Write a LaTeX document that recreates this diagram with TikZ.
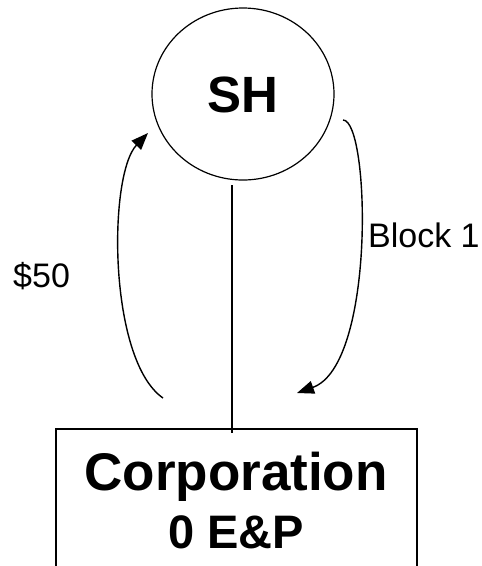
\documentclass[tikz,border=0pt]{standalone}
\usepackage{fontspec}
\setmainfont{Liberation Sans}
\usetikzlibrary{shapes.geometric,arrows.meta}
\begin{document}
\begin{tikzpicture}[x=1pt,y=1pt,
  conn/.style={line width=1.4pt,-{Triangle[length=17pt,width=13pt]}},
  plainline/.style={line width=1.3pt},
  lbl/.style={font=\fontsize{34}{40}\selectfont,inner sep=0pt,anchor=base west}]
\clip (0,0) rectangle (482,-566);
\useasboundingbox (0,0) rectangle (482,-566);
\fill[white] (0,0) rectangle (482,-566);
\node[ellipse,draw,line width=1.2pt,minimum width=182pt,minimum height=172pt,inner sep=0pt] (sh) at (243,-94) {};
\node[font=\bfseries\fontsize{51}{60}\selectfont,inner sep=0pt] (shtext) at (243,-95) {SH};
\node[rectangle,draw,line width=1.6pt,minimum width=361pt,minimum height=200pt,inner sep=0pt] (corp) at (236.5,-529) {};
\node[font=\bfseries\fontsize{53}{60}\selectfont,inner sep=0pt,anchor=base] (corptext) at (236,-490) {Corporation};
\node[font=\bfseries\fontsize{47}{54}\selectfont,inner sep=0pt,anchor=base] (eptext) at (236,-548) {0 E\&P};
\coordinate (lt) at (232,-185);
\coordinate (lb) at (232,-433);
\draw[plainline] (lt) -- (lb);
\coordinate (ls) at (163,-398);
\coordinate (le) at (148,-133);
\draw[conn] (ls) .. controls (108,-360) and (108,-175) .. (le);
\coordinate (rs) at (343,-120);
\coordinate (re) at (297,-393);
\draw[conn] (rs) .. controls (370,-120) and (376,-365) .. (re);
\node[lbl] (block) at (368,-247) {Block 1};
\node[lbl] (fifty) at (13,-287) {\$50};
\end{tikzpicture}
\end{document}
